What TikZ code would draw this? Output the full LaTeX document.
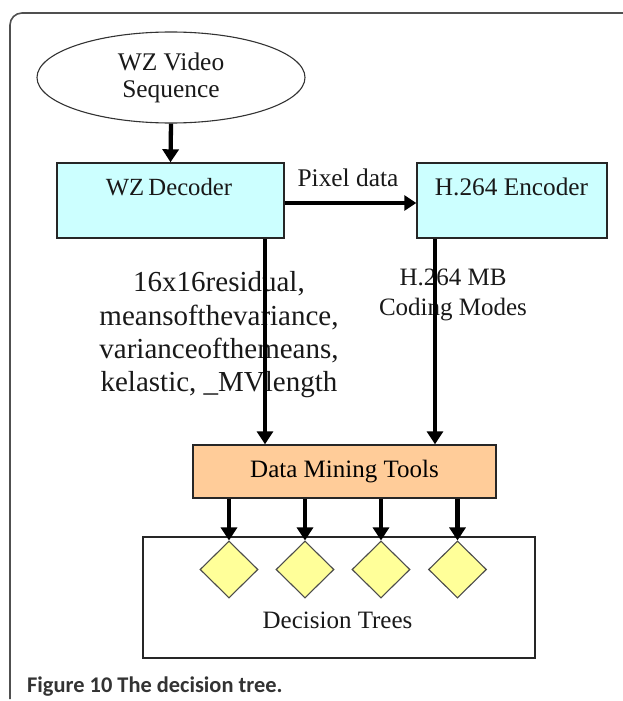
\documentclass[tikz,border=0pt]{standalone}
\usepackage{fontspec}
\setmainfont{Liberation Serif}
\newfontfamily\capfont{Carlito}
\usetikzlibrary{arrows.meta,shapes.geometric}

\definecolor{boxcyan}{HTML}{CCFFFF}
\definecolor{boxorange}{HTML}{FFCC99}
\definecolor{leafyellow}{HTML}{FFFF99}
\definecolor{framegray}{HTML}{505050}
\definecolor{captiongray}{HTML}{333333}

\tikzset{
  flowbox/.style={draw=black!85, line width=1.4pt, rectangle, inner sep=0pt},
  leaf/.style={draw=black!70, line width=1.1pt, diamond, fill=leafyellow,
               minimum width=58pt, minimum height=57pt, inner sep=0pt, aspect=1},
  lbl/.style={inner sep=0pt, text=black!90, align=center},
  flow/.style={draw=black, line width=4.3pt,
               -{Triangle[width=16pt,length=13pt]}},
  thinflow/.style={draw=black, line width=4pt,
               -{Triangle[width=15pt,length=12pt]}},
}

\begin{document}
\begin{tikzpicture}[x=1pt,y=-1pt]
  \useasboundingbox (0,0) rectangle (622,701);
  \fill[white] (0,0) rectangle (622,701);

  % outer figure frame (open to the right and bottom)
  \draw[framegray, line width=1.6pt, rounded corners=12pt]
    (640,13) -- (10,13) -- (10,699);

  % source sequence
  \node[ellipse, draw=black!80, line width=1.1pt, minimum width=268pt,
        minimum height=91pt, inner sep=0pt] (seq) at (171,77.5) {};
  \node[lbl, font=\fontsize{25.4}{27}\selectfont] (seqtxt) at (171,78)
    {WZ Video\\Sequence};

  % decoder and encoder
  \node[flowbox, fill=boxcyan, minimum width=227pt, minimum height=75pt]
    (dec) at (170.5,200.5) {};
  \node[lbl, font=\fontsize{24.7}{27}\selectfont] (dectxt) at (169,187)
    {WZ\hspace{-2pt} Decoder};
  \node[flowbox, fill=boxcyan, minimum width=190pt, minimum height=75pt]
    (enc) at (512,200.5) {};
  \node[lbl, font=\fontsize{25.3}{27}\selectfont] (enctxt) at (511.5,187)
    {H.264 Encoder};
  \node[lbl, font=\fontsize{25.4}{27}\selectfont] (pixtxt) at (348,178)
    {Pixel data};

  % feature labels
  \node[lbl, font=\fontsize{29}{33.3}\selectfont] (feat) at (219,335)
    {16x16residual,\\meansofthevariance,\\varianceofthemeans,\\kelastic, \_MVlength};
  \node[lbl, font=\fontsize{25}{30}\selectfont] (modes) at (453,295)
    {H.264 MB\\Coding Modes};

  % data mining stage
  \node[flowbox, fill=boxorange, minimum width=303pt, minimum height=53pt,
        font=\fontsize{25}{27}\selectfont] (dm) at (344.5,471.5) {Data Mining Tools};

  % decision trees container
  \node[flowbox, fill=white, minimum width=392pt, minimum height=121pt]
    (trees) at (339,597.5) {};
  \node[lbl, font=\fontsize{25}{27}\selectfont] (treestxt) at (337.5,620)
    {Decision Trees};
  \node[leaf] (d1) at (229,569.5) {};
  \node[leaf] (d2) at (305,569.5) {};
  \node[leaf] (d3) at (381,569.5) {};
  \node[leaf] (d4) at (457.5,569.5) {};

  % connectors
  \draw[flow] (seq.south) -- (dec.north);
  \draw[thinflow] ([yshift=-2.5pt]dec.east) -- ([yshift=-2.5pt]dec.east -| enc.west);
  \coordinate (decout) at ([xshift=94.5pt]dec.south);
  \coordinate (encout) at ([xshift=-77pt]enc.south);
  \draw[flow] (decout) -- (decout |- dm.north);
  \draw[flow] (encout) -- (encout |- dm.north);
  \foreach \d in {d1,d2,d3,d4}
    \draw[flow] (dm.south -| \d.north) -- (\d.north);

  % caption
  \node[anchor=west, inner sep=0pt, text=captiongray,
        font=\capfont\bfseries\fontsize{22.4}{24}\selectfont] (cap) at (27,687)
    {Figure 10 The decision tree.};
\end{tikzpicture}
\end{document}
